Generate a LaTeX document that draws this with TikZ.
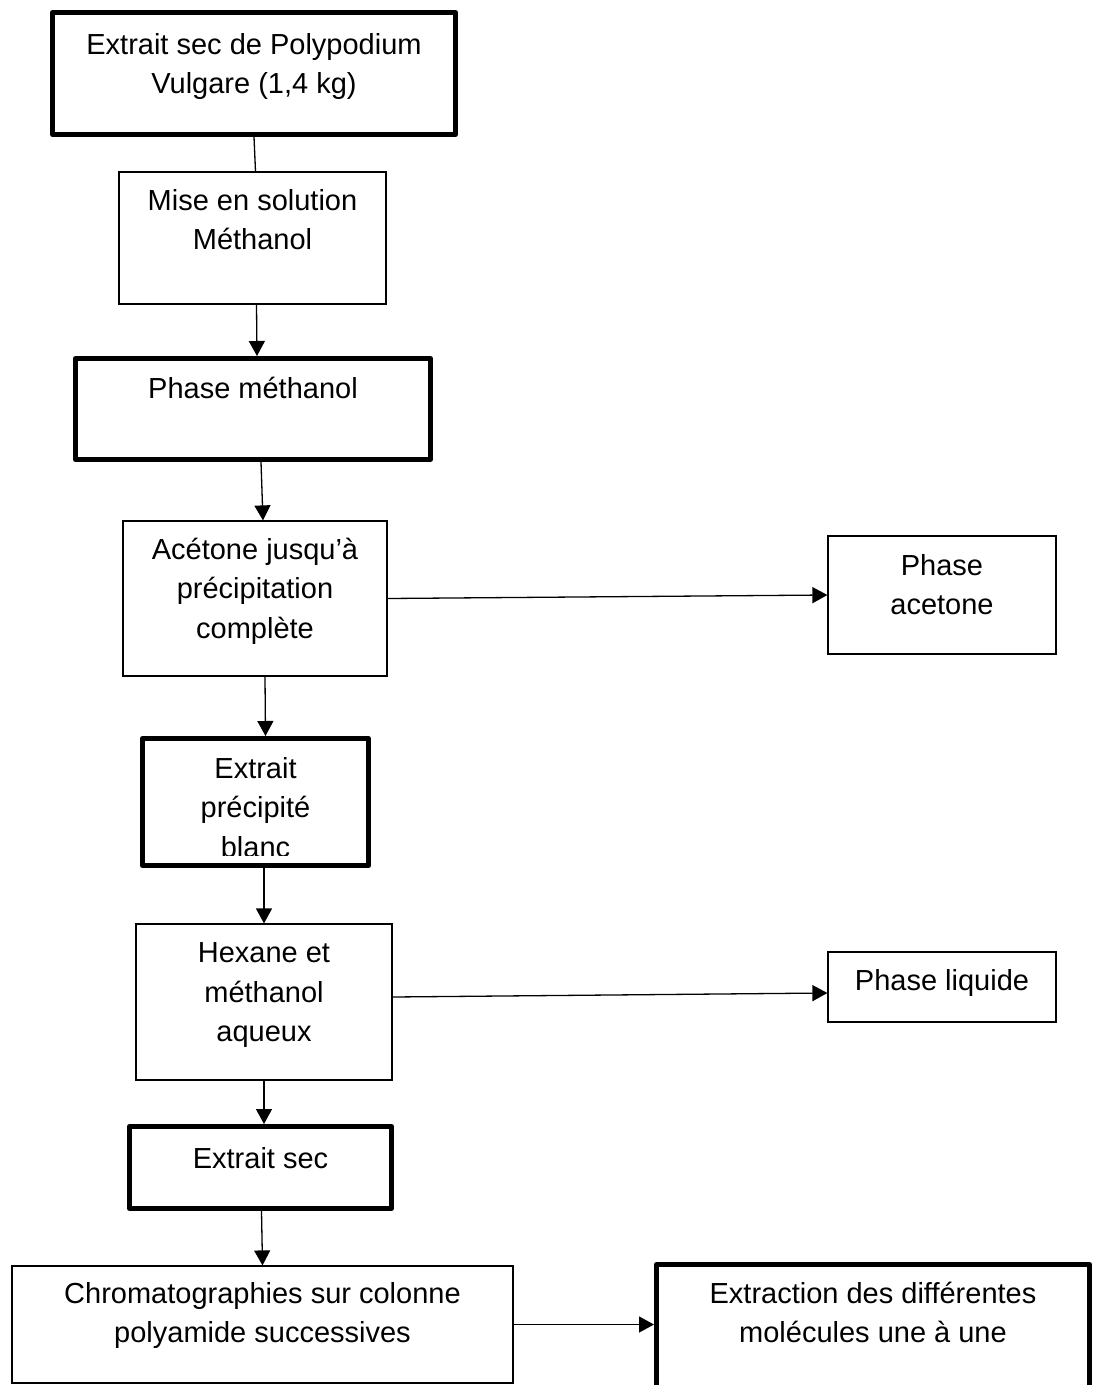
\documentclass[tikz,border=0pt]{standalone}
\usepackage{fontspec}
\setmainfont{Liberation Sans}
\usetikzlibrary{positioning,arrows.meta}

\begin{document}
\begin{tikzpicture}[x=1pt,y=-1pt]
\tikzstyle{every node}+=[inner sep=0pt]
\tikzstyle{thinbox}=[draw=black,line width=1.2pt,rectangle]
\tikzstyle{thickbox}=[draw=black,line width=5pt,line join=round,rectangle]
\tikzstyle{txt}=[align=center,font=\fontsize{29}{39.5}\selectfont,execute at begin node=\strut]
\tikzstyle{flow}=[black,line width=1.3pt,-{Triangle[length=15pt,width=16pt]}]
\useasboundingbox (0,0) rectangle (1095,1385);
% boxes
\node [thickbox,minimum width=403pt,minimum height=122pt] (src) at (254,73.5) {};
\node [thinbox,minimum width=267pt,minimum height=132pt] (sol) at (252.5,238) {};
\node [thickbox,minimum width=355pt,minimum height=101pt] (meth) at (253,409) {};
\node [thinbox,minimum width=264pt,minimum height=155pt] (acet) at (255,598.5) {};
\node [thinbox,minimum width=228pt,minimum height=118pt] (pacet) at (942,595) {};
\node [thickbox,minimum width=226pt,minimum height=127pt] (prec) at (255.5,802) {};
\node [thinbox,minimum width=256pt,minimum height=156pt] (hex) at (264,1002) {};
\node [thinbox,minimum width=228pt,minimum height=70pt] (pliq) at (942,987) {};
\node [thickbox,minimum width=262pt,minimum height=82pt] (sec) at (260.5,1167.5) {};
\node [thinbox,minimum width=501pt,minimum height=117pt] (chrom) at (262.5,1324.5) {};
\node [thickbox,minimum width=433pt,minimum height=155pt] (extr) at (873,1342) {};
% texts
\node [txt,below=23pt of src.north] (src-t) {Extrait sec de Polypodium\\Vulgare (1,4 kg)};
\node [txt,below=17.4pt of sol.north] (sol-t) {Mise en solution\\Méthanol};
\node [txt,below=14.9pt of meth.north] (meth-t) {Phase méthanol};
\node [txt,below=17.4pt of acet.north] (acet-t) {Acétone jusqu’à\\précipitation\\complète};
\node [txt,below=18.4pt of pacet.north] (pacet-t) {Phase\\acetone};
\begin{scope}
\clip (prec.north west) rectangle ([yshift=12.5pt]prec.south east);
\node [txt,below=20.9pt of prec.north] (prec-t) {Extrait\\précipité\\blanc};
\end{scope}
\node [txt,below=19.4pt of hex.north] (hex-t) {Hexane et\\méthanol\\aqueux};
\node [txt,below=11.4pt of pliq.north] (pliq-t) {Phase liquide};
\node [txt,below=16.9pt of sec.north] (sec-t) {Extrait sec};
\node [txt,below=16.4pt of chrom.north] (chrom-t) {Chromatographies sur colonne\\polyamide successives};
\node [txt,below=19.9pt of extr.north] (extr-t) {Extraction des différentes\\molécules une à une};
% connectors
\draw [black,line width=1.3pt] (src.south) -- ([xshift=3pt]sol.north);
\draw [flow] ([xshift=4pt]sol.south) -- ([xshift=4pt]meth.north);
\draw [flow] ([xshift=8pt]meth.south) -- ([xshift=8pt]acet.north);
\draw [flow] (acet.east) -- (pacet.west);
\draw [flow] ([xshift=10pt]acet.south) -- ([xshift=10pt]prec.north);
\draw [flow] (prec.south -| hex.north) -- (hex.north);
\draw [flow] ([yshift=5pt]hex.east) -- ([yshift=-6pt]pliq.west);
\draw [flow] (hex.south) -- (hex.south |- sec.north);
\draw [flow] ([xshift=1pt]sec.south) -- (chrom.north);
\draw [flow] (chrom.east) -- (chrom.east -| extr.west);
\end{tikzpicture}
\end{document}
